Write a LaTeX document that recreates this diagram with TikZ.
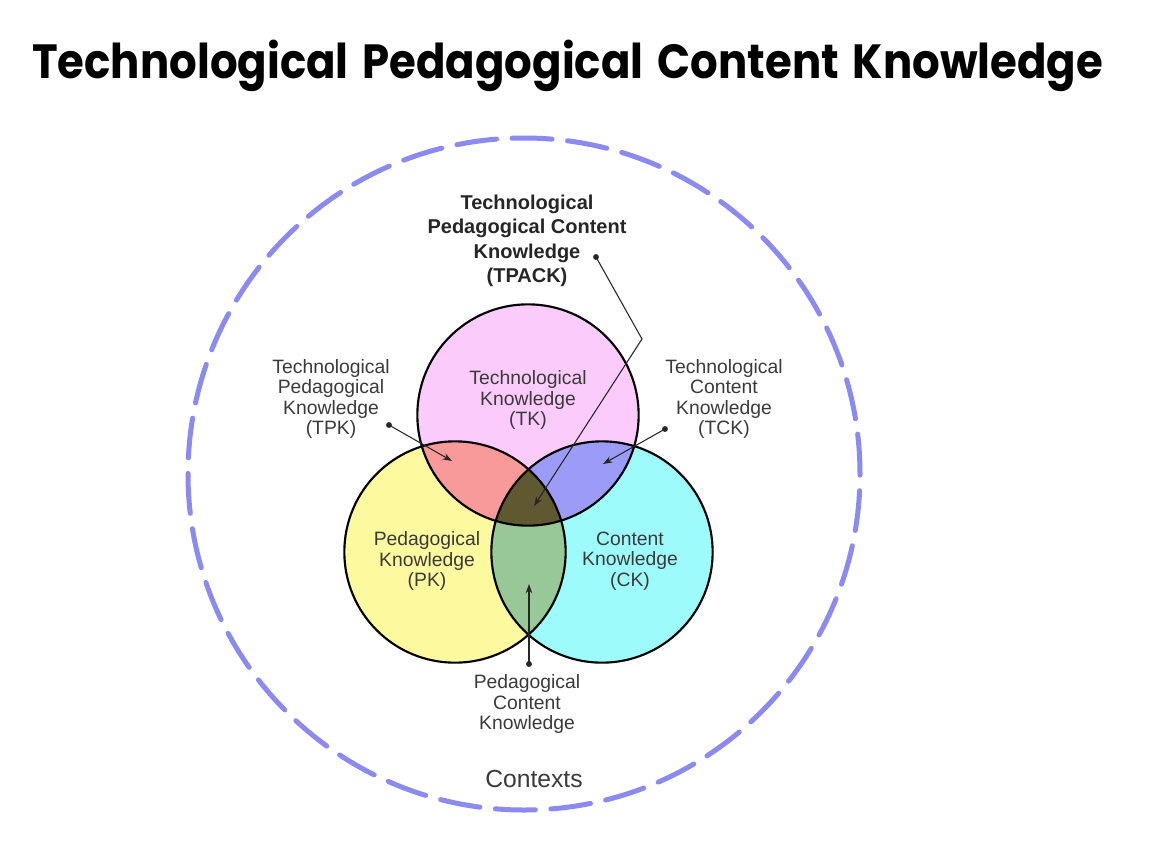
\documentclass[tikz,border=0pt]{standalone}
\usepackage{fontspec}
\usepackage{graphicx}
\setmainfont{Liberation Sans}
\newfontfamily\titlefont{Poppins}
\usetikzlibrary{arrows.meta}
\definecolor{tkfill}{HTML}{FBCBFB}
\definecolor{pkfill}{HTML}{FCF99E}
\definecolor{ckfill}{HTML}{9EFBFB}
\definecolor{tpkfill}{HTML}{F89A9A}
\definecolor{tckfill}{HTML}{9C9CF8}
\definecolor{pckfill}{HTML}{98C898}
\definecolor{tpackfill}{HTML}{5F5830}
\definecolor{ctxblue}{HTML}{8A8AF0}
\definecolor{labelgray}{HTML}{3A3A3A}
\tikzset{
  lbl/.style={align=center, text=labelgray, font=\fontsize{14.5}{15.4}\selectfont, inner sep=0pt},
  boldlbl/.style={align=center, text=black!85, font=\fontsize{15}{18.4}\selectfont\bfseries, inner sep=0pt},
  ring/.style={draw=black, line width=1.6pt},
  pointer/.style={draw=black!85, line width=0.8pt, -{Stealth[length=7pt,width=5pt]}},
  dotmark/.style={fill=black!85}
}
\begin{document}
\begin{tikzpicture}[x=0.75pt,y=-0.75pt]
\useasboundingbox (0,0) rectangle (1150,851);
\fill[white] (0,0) rectangle (1150,851);

\node[anchor=base west, inner sep=0pt, font=\titlefont\bfseries\fontsize{36}{40}\selectfont] (title) at (32,78) {\scalebox{0.905}[1]{Technological\hspace{4pt} Pedagogical\hspace{4pt} Content\hspace{4pt} Knowledge}};

\coordinate (ctx) at (524,474);
\draw[ctxblue, line width=3.75pt, line cap=round, dash pattern=on 30pt off 11.65pt] (ctx) circle[radius=252pt];

\coordinate (tk) at (528,415);
\coordinate (pk) at (455,552);
\coordinate (ck) at (602,552);
\def\R{83pt}

\fill[pkfill] (pk) circle[radius=\R];
\fill[ckfill] (ck) circle[radius=\R];
\fill[tkfill] (tk) circle[radius=\R];
\begin{scope}\clip (tk) circle[radius=\R]; \fill[tpkfill] (pk) circle[radius=\R];\end{scope}
\begin{scope}\clip (tk) circle[radius=\R]; \fill[tckfill] (ck) circle[radius=\R];\end{scope}
\begin{scope}\clip (pk) circle[radius=\R]; \fill[pckfill] (ck) circle[radius=\R];\end{scope}
\begin{scope}\clip (tk) circle[radius=\R]; \clip (pk) circle[radius=\R]; \fill[tpackfill] (ck) circle[radius=\R];\end{scope}
\draw[ring] (tk) circle[radius=\R];
\draw[ring] (pk) circle[radius=\R];
\draw[ring] (ck) circle[radius=\R];

\node[boldlbl] (tpacklbl) at (527,241) {Technological\\Pedagogical Content\\Knowledge\\(TPACK)};
\node[lbl] (tklbl) at (528,400) {Technological\\Knowledge\\(TK)};
\node[lbl] (tpklbl) at (331,399) {Technological\\Pedagogical\\Knowledge\\(TPK)};
\node[lbl] (tcklbl) at (724,399) {Technological\\Content\\Knowledge\\(TCK)};
\node[lbl] (pklbl) at (427,561) {Pedagogical\\Knowledge\\(PK)};
\node[lbl] (cklbl) at (630,561) {Content\\Knowledge\\(CK)};
\node[lbl] (pcklbl) at (527,704) {Pedagogical\\Content\\Knowledge};
\node[text=labelgray, inner sep=0pt, font=\fontsize{18.5}{20}\selectfont] (ctxlbl) at (534,779) {Contexts};

\coordinate (tpackdot) at (596,257);
\coordinate (tpackbend) at (642,339);
\coordinate (tpacktip) at (534,506);
\coordinate (tpkdot) at (389,425);
\coordinate (tpktip) at (452,461);
\coordinate (tckdot) at (665,429);
\coordinate (tcktip) at (603,464);
\coordinate (pckdot) at (529,664);
\coordinate (pcktip) at (529,584);

\draw[pointer] (tpackdot) -- (tpackbend) -- (tpacktip);
\draw[pointer] (tpkdot) -- (tpktip);
\draw[pointer] (tckdot) -- (tcktip);
\draw[pointer] (pckdot) -- (pcktip);
\foreach \d in {tpackdot,tpkdot,tckdot,pckdot} \fill[dotmark] (\d) circle[radius=2.2pt];
\end{tikzpicture}
\end{document}
